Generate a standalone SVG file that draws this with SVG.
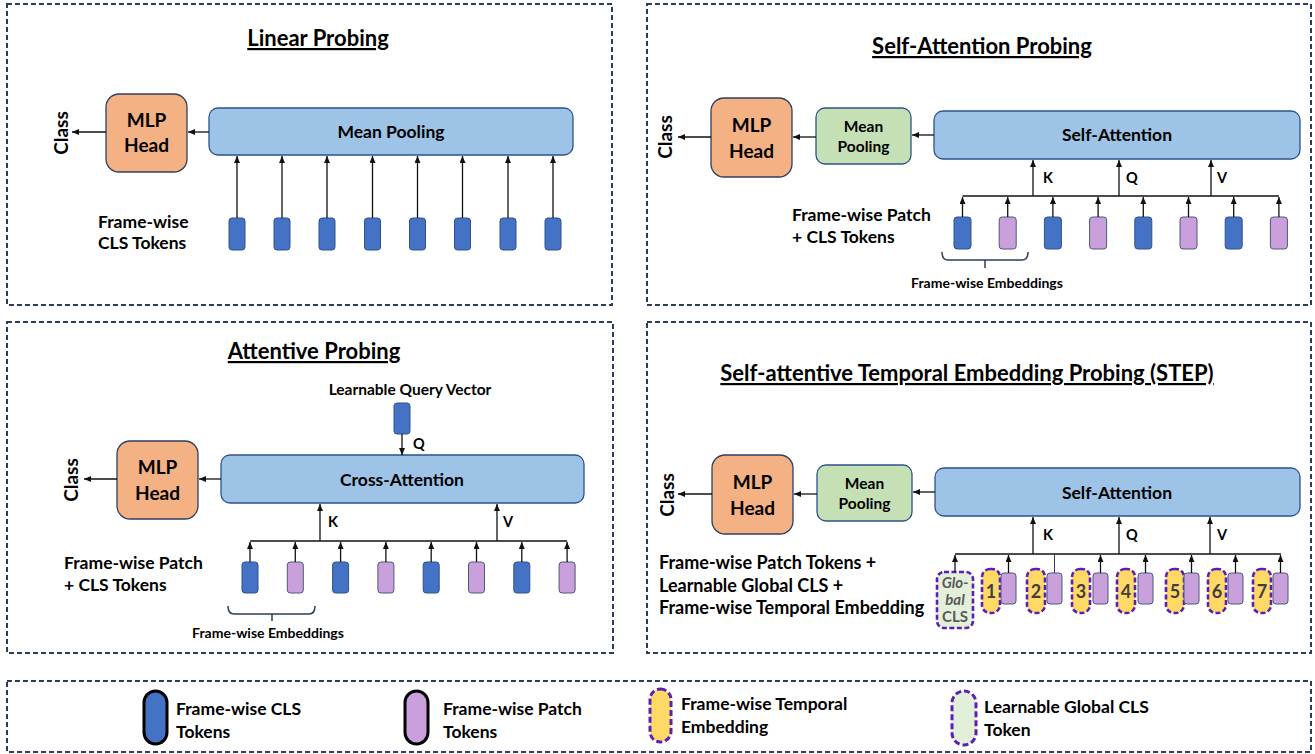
<svg xmlns="http://www.w3.org/2000/svg" width="1315" height="754" viewBox="0 0 1315 754">
  <style>
    .panel { fill: none; stroke: #2E3D5B; stroke-width: 2; stroke-dasharray: 5 3; }
    .mlp { fill: #F4B183; stroke: #2F3F5F; stroke-width: 1.3; }
    .attn { fill: #9DC3E6; stroke: #2F528F; stroke-width: 1.3; }
    .pool { fill: #C5E0B4; stroke: #2F528F; stroke-width: 1.3; }
    .cls { fill: #4472C4; stroke: #2F528F; stroke-width: 1; }
    .patch { fill: #C9A0DC; stroke: #4A5A7A; stroke-width: 1; }
    .temp { fill: #FFD966; stroke: #5B1FB8; stroke-width: 2.6; stroke-dasharray: 5 2.5; }
    .gcls { fill: #E2F0D9; stroke: #5B1FB8; stroke-width: 2.6; stroke-dasharray: 5 2.5; }
    .t { font-family: Lato, "Liberation Sans", sans-serif; font-weight: 700; fill: #000; }
    .title { font-size: 22px; text-anchor: middle; text-decoration: underline; }
    .head { font-size: 19px; text-anchor: middle; }
    .box { font-size: 17.5px; text-anchor: middle; }
    .small { font-size: 15.5px; text-anchor: middle; }
    .side { font-size: 17.5px; }
    .side-lg { font-size: 18px; }
    .note { font-size: 14px; text-anchor: middle; }
    .kqv { font-size: 14.5px; }
    .num { font-size: 18px; text-anchor: middle; fill: #404040; }
    .glob { font-size: 15px; text-anchor: middle; fill: #595959; }
    .conn line, .conn path { stroke: #111; stroke-width: 1.3; fill: none; }
    .brace { stroke: #2E3D5B; stroke-width: 1.5; fill: none; }
    .leg-cls { fill: #4472C4; stroke: #000; stroke-width: 3; }
    .leg-patch { fill: #C9A0DC; stroke: #000; stroke-width: 3; }
    .leg-temp { fill: #FFD966; stroke: #5B1FB8; stroke-width: 3; stroke-dasharray: 6 3; }
    .leg-gcls { fill: #E2F0D9; stroke: #5B1FB8; stroke-width: 3; stroke-dasharray: 6 3; }
  </style>
  <defs>
    <marker id="arrow" markerUnits="userSpaceOnUse" markerWidth="8" markerHeight="7" refX="7" refY="3" orient="auto">
      <path d="M0,0 L7,3 L0,6 z" fill="#111"/>
    </marker>
  </defs>

  <rect width="1315" height="754" fill="#fff"/>

  <!-- Panel frames -->
  <g id="frames">
    <rect class="panel" x="7" y="4" width="605" height="301"/>
    <rect class="panel" x="647" y="4" width="664" height="301"/>
    <rect class="panel" x="7" y="322" width="606" height="331"/>
    <rect class="panel" x="647" y="322" width="664" height="331"/>
    <rect class="panel" x="7" y="681" width="1304" height="71"/>
  </g>

  <!-- ========== Linear Probing ========== -->
  <g id="linear-probing">
    <text class="t title" x="318" y="46">Linear Probing</text>
    <text class="t side" x="98" y="228">Frame-wise</text>
    <text class="t side" x="98" y="249">CLS Tokens</text>
    <text class="t" font-size="19" text-anchor="middle" transform="translate(68,133) rotate(-90)">Class</text>
  </g>
  <g id="lp-mlp-head">
    <rect class="mlp" x="106" y="94" width="81" height="78" rx="13"/>
    <text class="t head" x="146.5" y="127">MLP</text>
    <text class="t head" x="146.5" y="152">Head</text>
  </g>
  <g id="lp-mean-pooling">
    <rect class="attn" x="209" y="108" width="364" height="47" rx="9"/>
    <text class="t box" x="391" y="138">Mean Pooling</text>
  </g>
  <g id="lp-tokens">
    <rect class="cls" x="229" y="218" width="16" height="32" rx="3"/>
    <rect class="cls" x="274" y="218" width="16" height="32" rx="3"/>
    <rect class="cls" x="319" y="218" width="16" height="32" rx="3"/>
    <rect class="cls" x="364.5" y="218" width="16" height="32" rx="3"/>
    <rect class="cls" x="409.5" y="218" width="16" height="32" rx="3"/>
    <rect class="cls" x="454.5" y="218" width="16" height="32" rx="3"/>
    <rect class="cls" x="500" y="218" width="16" height="32" rx="3"/>
    <rect class="cls" x="545" y="218" width="16" height="32" rx="3"/>
  </g>

  <!-- ========== Self-Attention Probing ========== -->
  <g id="self-attention-probing">
    <text class="t title" x="982" y="54">Self-Attention Probing</text>
    <text class="t side" x="792" y="221">Frame-wise Patch</text>
    <text class="t side" x="792" y="243">+ CLS Tokens</text>
    <text class="t" font-size="19" text-anchor="middle" transform="translate(672,137) rotate(-90)">Class</text>
    <path class="brace" d="M942,252 Q942,260 948,260 L1022,260 Q1028,260 1028,252 M985,260 L985,268"/>
    <text class="t note" x="987" y="288">Frame-wise Embeddings</text>
    <text class="t kqv" x="1043" y="183">K</text>
    <text class="t kqv" x="1126" y="183">Q</text>
    <text class="t kqv" x="1217" y="183">V</text>
  </g>
  <g id="sap-mlp-head">
    <rect class="mlp" x="711" y="98" width="81" height="79" rx="13"/>
    <text class="t head" x="751.5" y="132">MLP</text>
    <text class="t head" x="751.5" y="158">Head</text>
  </g>
  <g id="sap-mean-pooling">
    <rect class="pool" x="816" y="108" width="95" height="56" rx="9"/>
    <text class="t small" x="863.5" y="132">Mean</text>
    <text class="t small" x="863.5" y="152">Pooling</text>
  </g>
  <g id="sap-self-attention">
    <rect class="attn" x="934" y="111" width="366" height="48" rx="9"/>
    <text class="t box" x="1117" y="141">Self-Attention</text>
  </g>
  <g id="sap-tokens">
    <rect class="cls" x="954" y="217" width="17" height="32" rx="3"/>
    <rect class="patch" x="999.2" y="217" width="17" height="32" rx="3"/>
    <rect class="cls" x="1044.4" y="217" width="17" height="32" rx="3"/>
    <rect class="patch" x="1089.6" y="217" width="17" height="32" rx="3"/>
    <rect class="cls" x="1134.8" y="217" width="17" height="32" rx="3"/>
    <rect class="patch" x="1180" y="217" width="17" height="32" rx="3"/>
    <rect class="cls" x="1225.2" y="217" width="17" height="32" rx="3"/>
    <rect class="patch" x="1270.4" y="217" width="17" height="32" rx="3"/>
  </g>

  <!-- ========== Attentive Probing ========== -->
  <g id="attentive-probing">
    <text class="t title" x="314" y="359">Attentive Probing</text>
    <text class="t" font-size="15.5" text-anchor="middle" x="410" y="395">Learnable Query Vector</text>
    <text class="t side" x="64" y="569">Frame-wise Patch</text>
    <text class="t side" x="64" y="591">+ CLS Tokens</text>
    <text class="t" font-size="19" text-anchor="middle" transform="translate(78,480) rotate(-90)">Class</text>
    <path class="brace" d="M228,606 Q228,614 234,614 L309,614 Q315,614 315,606 M272,614 L272,621"/>
    <text class="t note" x="268" y="638">Frame-wise Embeddings</text>
    <text class="t kqv" x="328" y="527">K</text>
    <text class="t kqv" x="503" y="527">V</text>
    <text class="t kqv" x="413" y="449">Q</text>
  </g>
  <g id="ap-query">
    <rect class="cls" x="394" y="403" width="16" height="31" rx="3"/>
  </g>
  <g id="ap-mlp-head">
    <rect class="mlp" x="117" y="441" width="81" height="78" rx="13"/>
    <text class="t head" x="157.5" y="474">MLP</text>
    <text class="t head" x="157.5" y="500">Head</text>
  </g>
  <g id="ap-cross-attention">
    <rect class="attn" x="221" y="455" width="363" height="48" rx="9"/>
    <text class="t box" x="402" y="486">Cross-Attention</text>
  </g>
  <g id="ap-tokens">
    <rect class="cls" x="242" y="562" width="16" height="31" rx="3"/>
    <rect class="patch" x="287.3" y="562" width="16" height="31" rx="3"/>
    <rect class="cls" x="332.6" y="562" width="16" height="31" rx="3"/>
    <rect class="patch" x="377.9" y="562" width="16" height="31" rx="3"/>
    <rect class="cls" x="423.2" y="562" width="16" height="31" rx="3"/>
    <rect class="patch" x="468.5" y="562" width="16" height="31" rx="3"/>
    <rect class="cls" x="513.8" y="562" width="16" height="31" rx="3"/>
    <rect class="patch" x="559.1" y="562" width="16" height="31" rx="3"/>
  </g>

  <!-- ========== STEP ========== -->
  <g id="step-probing">
    <text class="t title" x="967" y="381">Self-attentive Temporal Embedding Probing (STEP)</text>
    <text class="t side-lg" x="659" y="569">Frame-wise Patch Tokens +</text>
    <text class="t side-lg" x="659" y="592">Learnable Global CLS +</text>
    <text class="t side-lg" x="659" y="614">Frame-wise Temporal Embedding</text>
    <text class="t" font-size="19" text-anchor="middle" transform="translate(674,495) rotate(-90)">Class</text>
    <text class="t kqv" x="1043" y="540">K</text>
    <text class="t kqv" x="1126" y="540">Q</text>
    <text class="t kqv" x="1217" y="540">V</text>
  </g>
  <g id="step-mlp-head">
    <rect class="mlp" x="712" y="455" width="81" height="79" rx="13"/>
    <text class="t head" x="752.5" y="489">MLP</text>
    <text class="t head" x="752.5" y="515">Head</text>
  </g>
  <g id="step-mean-pooling">
    <rect class="pool" x="817" y="465" width="95" height="56" rx="9"/>
    <text class="t small" x="864.5" y="489">Mean</text>
    <text class="t small" x="864.5" y="509">Pooling</text>
  </g>
  <g id="step-self-attention">
    <rect class="attn" x="935" y="468" width="365" height="48" rx="9"/>
    <text class="t box" x="1117" y="499">Self-Attention</text>
  </g>
  <g id="step-global-cls">
    <rect class="gcls" x="937" y="572" width="36" height="56" rx="7"/>
    <text class="t glob" x="955" y="588" font-style="italic">Glo-</text>
    <text class="t glob" x="955" y="605" font-style="italic">bal</text>
    <text class="t glob" x="955" y="622">CLS</text>
  </g>
  <g id="step-frame-1">
    <rect class="temp" x="982" y="569" width="18" height="44" rx="8"/>
    <rect class="patch" x="1001" y="573" width="15" height="31" rx="3"/>
    <text class="t num" x="991" y="598">1</text>
  </g>
  <g id="step-frame-2">
    <rect class="temp" x="1027" y="569" width="18" height="44" rx="8"/>
    <rect class="patch" x="1047" y="573" width="15" height="31" rx="3"/>
    <text class="t num" x="1036" y="598">2</text>
  </g>
  <g id="step-frame-3">
    <rect class="temp" x="1072" y="569" width="18" height="44" rx="8"/>
    <rect class="patch" x="1093" y="573" width="15" height="31" rx="3"/>
    <text class="t num" x="1081" y="598">3</text>
  </g>
  <g id="step-frame-4">
    <rect class="temp" x="1117" y="569" width="18" height="44" rx="8"/>
    <rect class="patch" x="1138" y="573" width="15" height="31" rx="3"/>
    <text class="t num" x="1126" y="598">4</text>
  </g>
  <g id="step-frame-5">
    <rect class="temp" x="1166" y="569" width="18" height="44" rx="8"/>
    <rect class="patch" x="1184" y="573" width="15" height="31" rx="3"/>
    <text class="t num" x="1175" y="598">5</text>
  </g>
  <g id="step-frame-6">
    <rect class="temp" x="1208" y="569" width="18" height="44" rx="8"/>
    <rect class="patch" x="1228" y="573" width="15" height="31" rx="3"/>
    <text class="t num" x="1217" y="598">6</text>
  </g>
  <g id="step-frame-7">
    <rect class="temp" x="1253" y="569" width="18" height="44" rx="8"/>
    <rect class="patch" x="1273" y="573" width="15" height="31" rx="3"/>
    <text class="t num" x="1262" y="598">7</text>
  </g>

  <!-- ========== Legend ========== -->
  <g id="legend-cls">
    <rect class="leg-cls" x="144" y="691" width="23" height="53" rx="11.5"/>
    <text class="t side" x="176" y="715">Frame-wise CLS</text>
    <text class="t side" x="176" y="738">Tokens</text>
  </g>
  <g id="legend-patch">
    <rect class="leg-patch" x="405" y="691" width="23" height="53" rx="11.5"/>
    <text class="t side" x="443" y="715">Frame-wise Patch</text>
    <text class="t side" x="443" y="738">Tokens</text>
  </g>
  <g id="legend-temporal">
    <rect class="leg-temp" x="650" y="689" width="21" height="53" rx="10.5"/>
    <text class="t side" x="681" y="710">Frame-wise Temporal</text>
    <text class="t side" x="681" y="733">Embedding</text>
  </g>
  <g id="legend-global">
    <rect class="leg-gcls" x="952" y="691" width="24" height="54" rx="12"/>
    <text class="t side" x="984" y="713">Learnable Global CLS</text>
    <text class="t side" x="984" y="736">Token</text>
  </g>

  <!-- ========== Connectors ========== -->
  <g id="connectors" class="conn">
    <!-- Linear probing -->
    <line x1="209" y1="132" x2="188" y2="132" marker-end="url(#arrow)"/>
    <line x1="106" y1="132" x2="72" y2="132" marker-end="url(#arrow)"/>
    <line x1="237" y1="218" x2="237" y2="156" marker-end="url(#arrow)"/>
    <line x1="282" y1="218" x2="282" y2="156" marker-end="url(#arrow)"/>
    <line x1="327" y1="218" x2="327" y2="156" marker-end="url(#arrow)"/>
    <line x1="372.5" y1="218" x2="372.5" y2="156" marker-end="url(#arrow)"/>
    <line x1="417.5" y1="218" x2="417.5" y2="156" marker-end="url(#arrow)"/>
    <line x1="462.5" y1="218" x2="462.5" y2="156" marker-end="url(#arrow)"/>
    <line x1="508" y1="218" x2="508" y2="156" marker-end="url(#arrow)"/>
    <line x1="553" y1="218" x2="553" y2="156" marker-end="url(#arrow)"/>

    <!-- Self-attention probing -->
    <line x1="934" y1="135" x2="912" y2="135" marker-end="url(#arrow)"/>
    <line x1="816" y1="137" x2="793" y2="137" marker-end="url(#arrow)"/>
    <line x1="711" y1="137" x2="678" y2="137" marker-end="url(#arrow)"/>
    <line x1="962.5" y1="196" x2="1278.9" y2="196"/>
    <line x1="1033" y1="196" x2="1033" y2="160" marker-end="url(#arrow)"/>
    <line x1="1119" y1="196" x2="1119" y2="160" marker-end="url(#arrow)"/>
    <line x1="1211" y1="196" x2="1211" y2="160" marker-end="url(#arrow)"/>
    <line x1="962.5" y1="217" x2="962.5" y2="197" marker-end="url(#arrow)"/>
    <line x1="1007.7" y1="217" x2="1007.7" y2="197" marker-end="url(#arrow)"/>
    <line x1="1052.9" y1="217" x2="1052.9" y2="197" marker-end="url(#arrow)"/>
    <line x1="1098.1" y1="217" x2="1098.1" y2="197" marker-end="url(#arrow)"/>
    <line x1="1143.3" y1="217" x2="1143.3" y2="197" marker-end="url(#arrow)"/>
    <line x1="1188.5" y1="217" x2="1188.5" y2="197" marker-end="url(#arrow)"/>
    <line x1="1233.7" y1="217" x2="1233.7" y2="197" marker-end="url(#arrow)"/>
    <line x1="1278.9" y1="217" x2="1278.9" y2="197" marker-end="url(#arrow)"/>

    <!-- Attentive probing -->
    <line x1="221" y1="479" x2="199" y2="479" marker-end="url(#arrow)"/>
    <line x1="117" y1="479" x2="84" y2="479" marker-end="url(#arrow)"/>
    <line x1="402" y1="434" x2="402" y2="455" marker-end="url(#arrow)"/>
    <line x1="250" y1="541" x2="567.1" y2="541"/>
    <line x1="320" y1="541" x2="320" y2="504" marker-end="url(#arrow)"/>
    <line x1="497" y1="541" x2="497" y2="504" marker-end="url(#arrow)"/>
    <line x1="250" y1="562" x2="250" y2="542" marker-end="url(#arrow)"/>
    <line x1="295.3" y1="562" x2="295.3" y2="542" marker-end="url(#arrow)"/>
    <line x1="340.6" y1="562" x2="340.6" y2="542" marker-end="url(#arrow)"/>
    <line x1="385.9" y1="562" x2="385.9" y2="542" marker-end="url(#arrow)"/>
    <line x1="431.2" y1="562" x2="431.2" y2="542" marker-end="url(#arrow)"/>
    <line x1="476.5" y1="562" x2="476.5" y2="542" marker-end="url(#arrow)"/>
    <line x1="521.8" y1="562" x2="521.8" y2="542" marker-end="url(#arrow)"/>
    <line x1="567.1" y1="562" x2="567.1" y2="542" marker-end="url(#arrow)"/>

    <!-- STEP -->
    <line x1="935" y1="492" x2="913" y2="492" marker-end="url(#arrow)"/>
    <line x1="817" y1="494" x2="794" y2="494" marker-end="url(#arrow)"/>
    <line x1="712" y1="494" x2="678" y2="494" marker-end="url(#arrow)"/>
    <line x1="955" y1="554" x2="1281" y2="554"/>
    <line x1="1033" y1="554" x2="1033" y2="517" marker-end="url(#arrow)"/>
    <line x1="1119" y1="554" x2="1119" y2="517" marker-end="url(#arrow)"/>
    <line x1="1210" y1="554" x2="1210" y2="517" marker-end="url(#arrow)"/>
    <line x1="955" y1="572" x2="955" y2="555" marker-end="url(#arrow)"/>
    <line x1="1008.5" y1="573" x2="1008.5" y2="555" marker-end="url(#arrow)"/>
    <line x1="1054.5" y1="573" x2="1054.5" y2="554" style="stroke:#2F3F5F;stroke-width:1"/>
    <line x1="1100.5" y1="573" x2="1100.5" y2="555" marker-end="url(#arrow)"/>
    <line x1="1145.5" y1="573" x2="1145.5" y2="555" marker-end="url(#arrow)"/>
    <line x1="1191.5" y1="573" x2="1191.5" y2="555" marker-end="url(#arrow)"/>
    <line x1="1235.5" y1="573" x2="1235.5" y2="555" marker-end="url(#arrow)"/>
    <line x1="1280.5" y1="573" x2="1280.5" y2="555" marker-end="url(#arrow)"/>
  </g>
</svg>
